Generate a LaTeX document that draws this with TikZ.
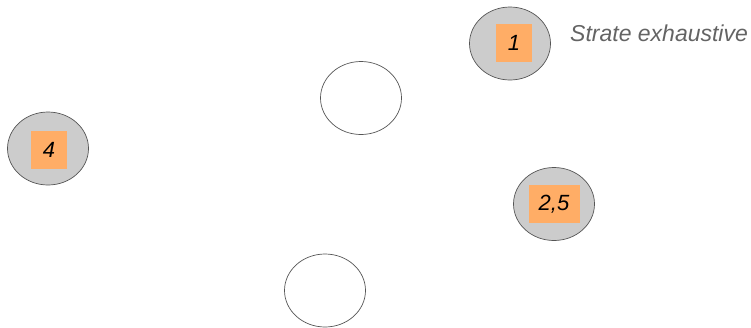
\documentclass[tikz,border=0pt]{standalone}
\usepackage{fontspec}
\setmainfont{Liberation Sans}
\usetikzlibrary{shapes.geometric, positioning}
\definecolor{stategray}{RGB}{204,204,204}
\definecolor{edgegray}{RGB}{85,85,85}
\definecolor{tagorange}{RGB}{255,173,102}
\definecolor{notegray}{RGB}{100,100,100}
\begin{document}
\begin{tikzpicture}[
  x=1pt, y=-1pt,
  etat/.style={ellipse, draw=edgegray, line width=0.7pt, fill=#1, minimum width=81pt, minimum height=73pt, inner sep=0pt},
  tag/.style={rectangle, fill=tagorange, minimum width=#1, minimum height=38pt, inner sep=0pt, font=\fontsize{22}{26}\selectfont\itshape},
  note/.style={font=\fontsize{23}{27}\selectfont\itshape, text=notegray, inner sep=0pt},
]
  \useasboundingbox (0,0) rectangle (751,327);

  % visited states
  \node[etat=stategray] (s1)  at (510,43.5) {};
  \node[tag=36pt] (t1) at (514,42.5) {1};
  \node[etat=stategray] (s4)  at (48,148.5) {};
  \node[tag=36.5pt] (t4) at (49,150) {4};
  \node[etat=stategray] (s25) at (554,204) {};
  \node[tag=51pt] (t25) at (554,204) {2,5};

  % empty states
  \node[etat=white] (sa) at (361,98) {};
  \node[etat=white] (sb) at (325,290.5) {};

  \node[note, anchor=west] (lbl) at (570,33) {Strate exhaustive};
\end{tikzpicture}
\end{document}
